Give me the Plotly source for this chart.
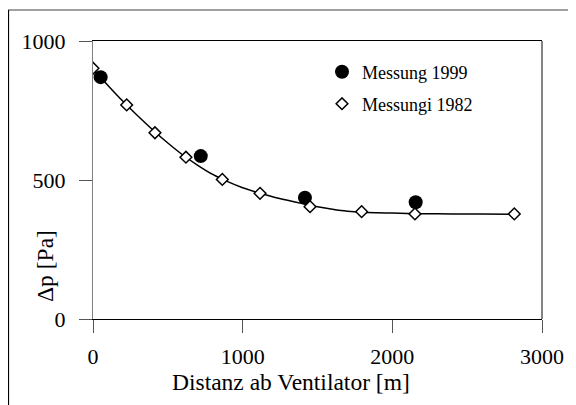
import plotly.graph_objects as go

# Data
x_1999 = [51, 720, 1416, 2156]
y_1999 = [870, 586, 436, 420]

x_1982 = [0, 225, 414, 621, 864, 1116, 1450, 1795, 2151, 2815]
y_1982 = [902, 770, 670, 582, 502, 452, 404, 386, 378, 378]

x_fit = [0, 100, 200, 300, 400, 500, 600, 700, 800, 900, 1000, 1100, 1200,
         1300, 1400, 1500, 1600, 1700, 1800, 2000, 2200, 2400, 2600, 2820]
y_fit = [900, 840, 783, 730, 680, 633, 590, 553, 520, 494, 472, 455, 440,
         427, 415, 404, 395, 388, 384, 381, 379, 378, 378, 377]

x_ticks = [0, 1000, 2000, 3000]
y_ticks = [0, 500, 1000]

FONT = "Liberation Serif"

fig = go.Figure()
fig.add_trace(go.Scatter(x=x_fit, y=y_fit, mode="lines",
                         line=dict(color="black", width=1.5, shape="spline", smoothing=0.6),
                         showlegend=False, hoverinfo="skip"))
fig.add_trace(go.Scatter(x=x_1999, y=y_1999, mode="markers", name="Messung 1999",
                         marker=dict(symbol="circle", size=14, color="black"), legend="legend"))
fig.add_trace(go.Scatter(x=x_1982, y=y_1982, mode="markers", name="Messungi 1982",
                         marker=dict(symbol="diamond", size=9, color="white",
                                     line=dict(color="black", width=1.5)),
                         legend="legend2"))

OFF = 8  # page offset of the figure
W, H = 576, 405
# reference pixel positions of plot area
RL, RT, RR, RB = 93, 41, 542, 319
L = RL - OFF
T = RT - OFF
R = W - (RR - OFF)
B = H - (RB - OFF)
pw = RR - RL
ph = RB - RT


def px(xp):
    return (xp - RL) / pw


def py(yp):
    return (RB - yp) / ph


fig.update_layout(
    width=W, height=H,
    margin=dict(l=L, r=R, t=T, b=B),
    paper_bgcolor="white", plot_bgcolor="white",
    font=dict(family=FONT, color="black"),
    xaxis=dict(range=[0, 3000], tickvals=x_ticks, showgrid=False, zeroline=False,
               showline=True, linecolor="black", linewidth=1.2, mirror=True,
               ticks="outside", ticklen=13, tickcolor="#555555", tickwidth=1.2,
               tickfont=dict(size=22, family=FONT, color="black"), ticklabelstandoff=4),
    yaxis=dict(range=[0, 1000], tickvals=y_ticks, showgrid=False, zeroline=False,
               showline=True, linecolor="#808080", linewidth=1.2,
               ticks="outside", ticklen=13, tickcolor="#555555", tickwidth=1.2,
               tickfont=dict(size=22, family=FONT, color="black"), ticklabelstandoff=9),
    legend=dict(x=px(322), y=py(72), xanchor="left", yanchor="middle", bgcolor="rgba(0,0,0,0)",
                font=dict(size=18, family=FONT)),
    legend2=dict(x=px(322), y=py(104), xanchor="left", yanchor="middle", bgcolor="rgba(0,0,0,0)",
                 font=dict(size=18, family=FONT)),
    shapes=[
        dict(type="line", xref="paper", yref="paper", x0=1, x1=1, y0=0, y1=1,
             line=dict(color="#333333", width=1.2)),
        dict(type="line", xref="paper", yref="paper", x0=px(8), x1=px(600), y0=py(10), y1=py(10),
             line=dict(color="#808080", width=1.5)),
        dict(type="line", xref="paper", yref="paper", x0=px(8.5), x1=px(8.5), y0=py(10), y1=py(420),
             line=dict(color="black", width=1.2)),
    ],
    annotations=[
        dict(text="Distanz ab Ventilator [m]", xref="paper", yref="paper", x=px(290.5), y=py(382),
             xanchor="center", yanchor="middle", showarrow=False, font=dict(size=23.5, family=FONT)),
        dict(text="Δp [Pa]", xref="paper", yref="paper", x=px(45), y=py(266), textangle=-90,
             xanchor="center", yanchor="middle", showarrow=False, font=dict(size=23.5, family=FONT)),
    ],
)

fig.write_html("out.html")
